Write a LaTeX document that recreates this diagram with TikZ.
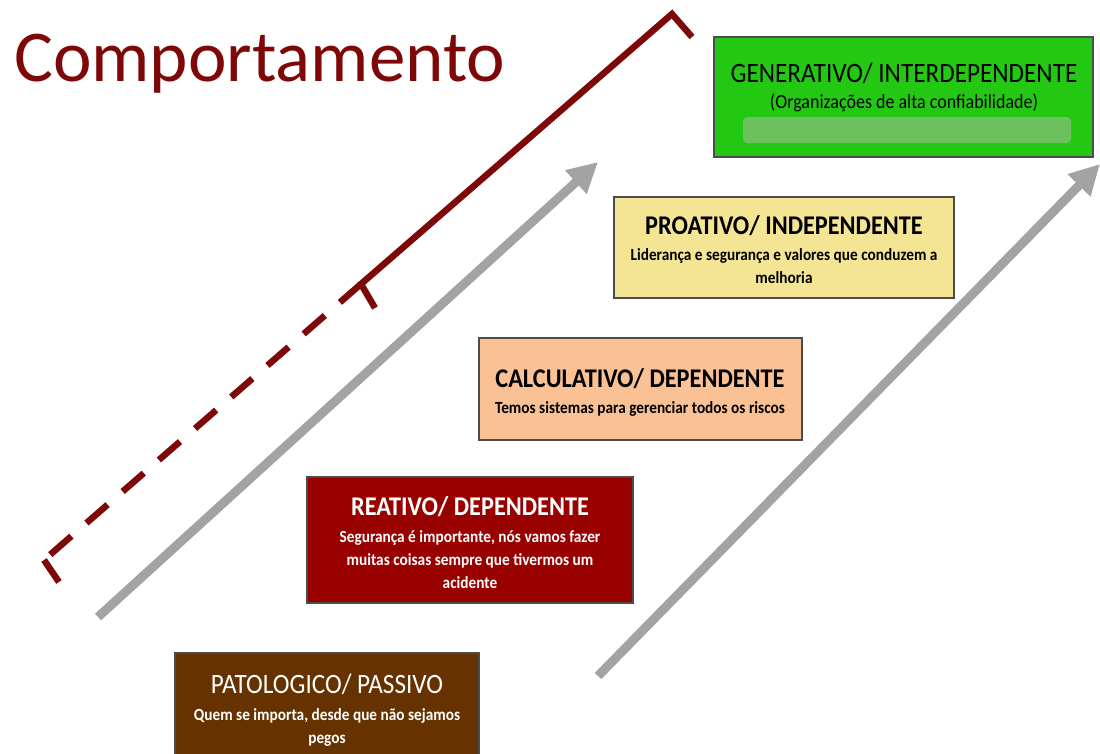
\documentclass[tikz,border=0pt]{standalone}
\usepackage{fontspec}
\setmainfont{Carlito}
\newfontfamily\boxfont[FakeStretch=0.9]{Carlito}
\usetikzlibrary{arrows.meta}
\definecolor{vinho}{HTML}{7E0808}
\definecolor{verde}{HTML}{22C812}
\definecolor{verdeclaro}{HTML}{6CC15E}
\definecolor{amarelo}{HTML}{F3E594}
\definecolor{pessego}{HTML}{FAC194}
\definecolor{vermelho}{HTML}{990000}
\definecolor{marrom}{HTML}{663300}
\definecolor{cinza}{HTML}{A3A3A3}
\tikzset{
  nivel/.style={draw=black!70, line width=1.3pt, inner sep=0pt},
  titulo/.style={font=\boxfont\fontsize{28}{30}\selectfont, inner sep=0pt},
  titulob/.style={font=\boxfont\bfseries\fontsize{27}{30}\selectfont, inner sep=0pt},
  corpo/.style={font=\boxfont\bfseries\fontsize{17}{23}\selectfont, inner sep=0pt, align=center},
  seta/.style={cinza, line width=9pt, -{Triangle[length=30pt,width=30pt]}},
  chave/.style={vinho, line width=6.5pt, line join=miter},
}

\begin{document}
\begin{tikzpicture}[x=1pt,y=-1pt]
			%%%%% START %%%%%
			\useasboundingbox (0,0) rectangle (1100,753);
			
			% titulo
			\node[anchor=base west, text=vinho, font=\fontsize{73}{73}\selectfont, inner sep=0pt] (tit) at (14,81) {Comportamento};
			
			% setas
			\coordinate (s1a) at (98,617);
			\coordinate (s1b) at (598,162);
			\coordinate (s2a) at (598,676);
			\coordinate (s2b) at (1100,164);
			\draw[seta] (s1a) -- (s1b);
			\draw[seta] (s2a) -- (s2b);
			
			% chave
			\coordinate (c1) at (375,308);
			\coordinate (c2) at (361,284);
			\coordinate (c3) at (672,14);
			\coordinate (c4) at (692,37);
			\coordinate (c5) at (44,560);
			\coordinate (c6) at (59,582);
			\draw[chave] (c1) -- (c2) -- (c3) -- (c4);
			\draw[chave, dash pattern=on 28pt off 20pt] (c2) -- (c5);
			\draw[chave] (c5) -- (c6);
			
			% GENERATIVO
			\node[nivel, fill=verde, minimum width=379pt, minimum height=120pt] (gen) at (903.5,97) {};
			\node[fill=verdeclaro, rounded corners=4pt, minimum width=328pt, minimum height=26pt, inner sep=0pt] (genbar) at (907,130) {};
			\node[titulo] (gent) at (904,73) {GENERATIVO/ INTERDEPENDENTE};
			\node[font=\boxfont\fontsize{20}{22}\selectfont, inner sep=0pt] (gens) at (904,103) {(Organizações de alta confiabilidade)};
			
			% PROATIVO
			\node[nivel, fill=amarelo, minimum width=340pt, minimum height=101pt] (pro) at (784,247.5) {};
			\node[titulob] (prot) at (784,226) {PROATIVO/ INDEPENDENTE};
			\node[corpo] (pros) at (784,266) {Liderança e segurança e valores que conduzem a\\melhoria};
			
			% CALCULATIVO
			\node[nivel, fill=pessego, minimum width=323pt, minimum height=102pt] (cal) at (640.5,389) {};
			\node[titulob] (calt) at (640,379) {CALCULATIVO/ DEPENDENTE};
			\node[corpo] (cals) at (640,409) {Temos sistemas para gerenciar todos os riscos};
			
			% REATIVO
			\node[nivel, fill=vermelho, minimum width=326pt, minimum height=126pt] (rea) at (470,540) {};
			\node[titulob, text=white] (reat) at (470,507) {REATIVO/ DEPENDENTE};
			\node[corpo, text=white] (reas) at (470,560) {Segurança é importante, nós vamos fazer\\muitas coisas sempre que tivermos um\\acidente};
			
			% PATOLOGICO
			\node[nivel, fill=marrom, minimum width=304pt, minimum height=110pt] (pat) at (327,708) {};
			\node[titulo, text=white] (patt) at (327,684) {PATOLOGICO/ PASSIVO};
			\node[corpo, text=white] (pats) at (327,727) {Quem se importa, desde que não sejamos\\pegos};
			
			%%%%% END %%%%%
		\end{tikzpicture}
\end{document}
